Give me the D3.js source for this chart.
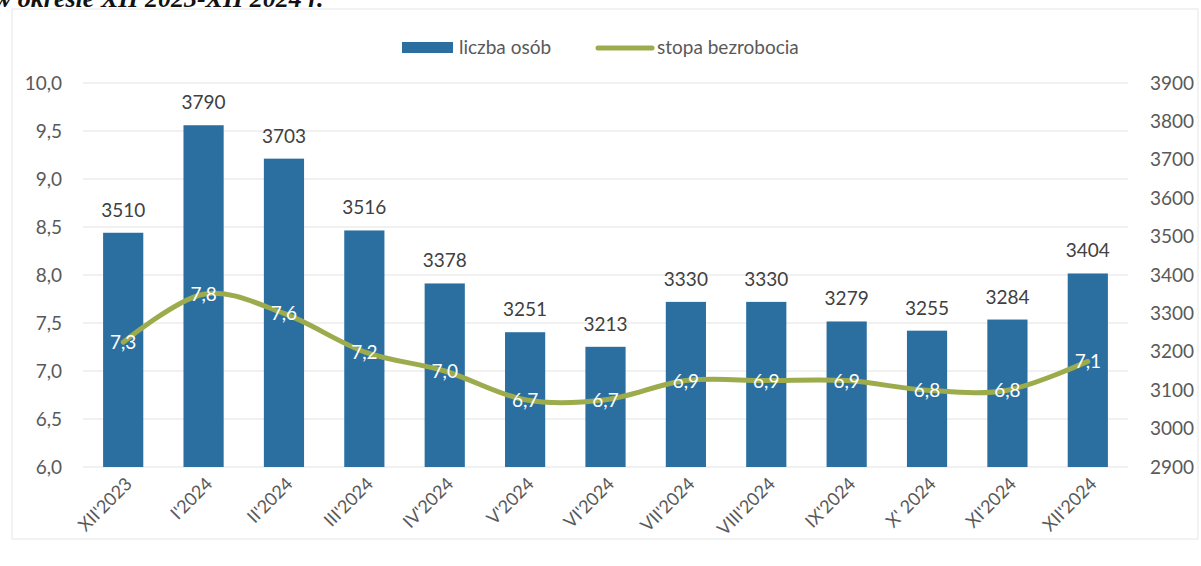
<!DOCTYPE html>
<html><head><meta charset="utf-8">
<script src="https://cdn.jsdelivr.net/npm/d3@7"></script>
<style>body{margin:0;background:#fff;}svg{display:block;}</style>
</head><body>
<svg id="c" width="1201" height="566"></svg>
<script>
const categories = ["XII'2023","I'2024","II'2024","III'2024","IV'2024","V'2024","VI'2024","VII'2024","VIII'2024","IX'2024","X' 2024","XI'2024","XII'2024"];
const liczbaOsob = [3510,3790,3703,3516,3378,3251,3213,3330,3330,3279,3255,3284,3404];
const stopaBezrobocia = [7.3,7.8,7.6,7.2,7.0,6.7,6.7,6.9,6.9,6.9,6.8,6.8,7.1];
const leftTicks = [6.0,6.5,7.0,7.5,8.0,8.5,9.0,9.5,10.0];
const rightTicks = [2900,3000,3100,3200,3300,3400,3500,3600,3700,3800,3900];
const seriesNames = ["liczba osób","stopa bezrobocia"];
const titleText = "w okresie XII 2023-XII 2024 r.";

const svg = d3.select("#c");
const font = "Lato, 'Open Sans', sans-serif";
const barColor = "#2b6fa1", lineColor = "#9cac4c";

// frame
svg.append("rect").attr("x",12).attr("y",9).attr("width",1186).attr("height",530)
  .attr("fill","none").attr("stroke","#e6e6e6").attr("stroke-width",1);

// cut-off title
svg.append("text").attr("x",-6).attr("y",7).attr("font-family","'Liberation Serif', serif")
  .attr("font-weight","bold").attr("font-style","italic").attr("font-size",26).attr("fill","#111")
  .text(titleText);

const x = d3.scaleBand().domain(categories).range([83,1128]).paddingInner(0.5).paddingOuter(0.25);
const yL = d3.scaleLinear().domain([6,10]).range([467,83]);
const yR = d3.scaleLinear().domain([2900,3900]).range([467,83]);

// gridlines
svg.append("g").selectAll("line").data(leftTicks).join("line")
  .attr("x1",83).attr("x2",1128).attr("y1",d=>yL(d)).attr("y2",d=>yL(d))
  .attr("stroke","#e3e3e3").attr("stroke-width",1);

// left axis
const fmt = d => d.toFixed(1).replace(".",",");
const gl = svg.append("g").attr("transform","translate(70,0)")
  .call(d3.axisLeft(yL).tickValues(leftTicks).tickFormat(fmt).tickSize(0).tickPadding(8));
gl.select(".domain").remove();
gl.selectAll("text").attr("font-family",font).attr("font-size",19).attr("fill","#595959");

// right axis
const gr = svg.append("g").attr("transform","translate(1142,0)")
  .call(d3.axisRight(yR).tickValues(rightTicks).tickFormat(d3.format("d")).tickSize(0).tickPadding(8));
gr.select(".domain").remove();
gr.selectAll("text").attr("font-family",font).attr("font-size",19).attr("fill","#595959");

// bottom axis
const gb = svg.append("g").attr("transform","translate(0,467)")
  .call(d3.axisBottom(x).tickSize(0).tickPadding(0));
gb.select(".domain").remove();
gb.selectAll("text").attr("font-family",font).attr("font-size",18).attr("fill","#595959")
  .attr("text-anchor","end").attr("dy","0").attr("transform","translate(10,18) rotate(-45)");

// bars
svg.append("g").selectAll("rect").data(liczbaOsob).join("rect")
  .attr("x",(d,i)=>x(categories[i])).attr("width",x.bandwidth())
  .attr("y",d=>yR(d)).attr("height",d=>yR(2900)-yR(d)).attr("fill",barColor);

// bar labels
svg.append("g").selectAll("text").data(liczbaOsob).join("text")
  .attr("x",(d,i)=>x(categories[i])+x.bandwidth()/2).attr("y",d=>yR(d)-16)
  .attr("text-anchor","middle").attr("font-family",font).attr("font-size",19).attr("fill","#404040")
  .text(d=>d);

// line
const line = d3.line().x((d,i)=>x(categories[i])+x.bandwidth()/2).y(d=>yL(d)).curve(d3.curveCardinal.tension(0));
svg.append("path").datum(stopaBezrobocia).attr("d",line).attr("fill","none")
  .attr("stroke",lineColor).attr("stroke-width",5).attr("stroke-linecap","round");

// line labels
svg.append("g").selectAll("text").data(stopaBezrobocia).join("text")
  .attr("x",(d,i)=>x(categories[i])+x.bandwidth()/2).attr("y",d=>yL(d)+7)
  .attr("text-anchor","middle").attr("font-family",font).attr("font-size",19).attr("fill","#ffffff")
  .text(d=>fmt(d));

// legend
const lg = svg.append("g");
lg.append("rect").attr("x",402).attr("y",42).attr("width",51).attr("height",11).attr("fill",barColor);
lg.append("text").attr("x",459).attr("y",54).attr("font-family",font).attr("font-size",19).attr("fill","#595959").text(seriesNames[0]);
lg.append("line").attr("x1",598).attr("x2",652).attr("y1",48).attr("y2",48).attr("stroke",lineColor).attr("stroke-width",5).attr("stroke-linecap","round");
lg.append("text").attr("x",657).attr("y",54).attr("font-family",font).attr("font-size",19).attr("fill","#595959").text(seriesNames[1]);
</script>
</body></html>
